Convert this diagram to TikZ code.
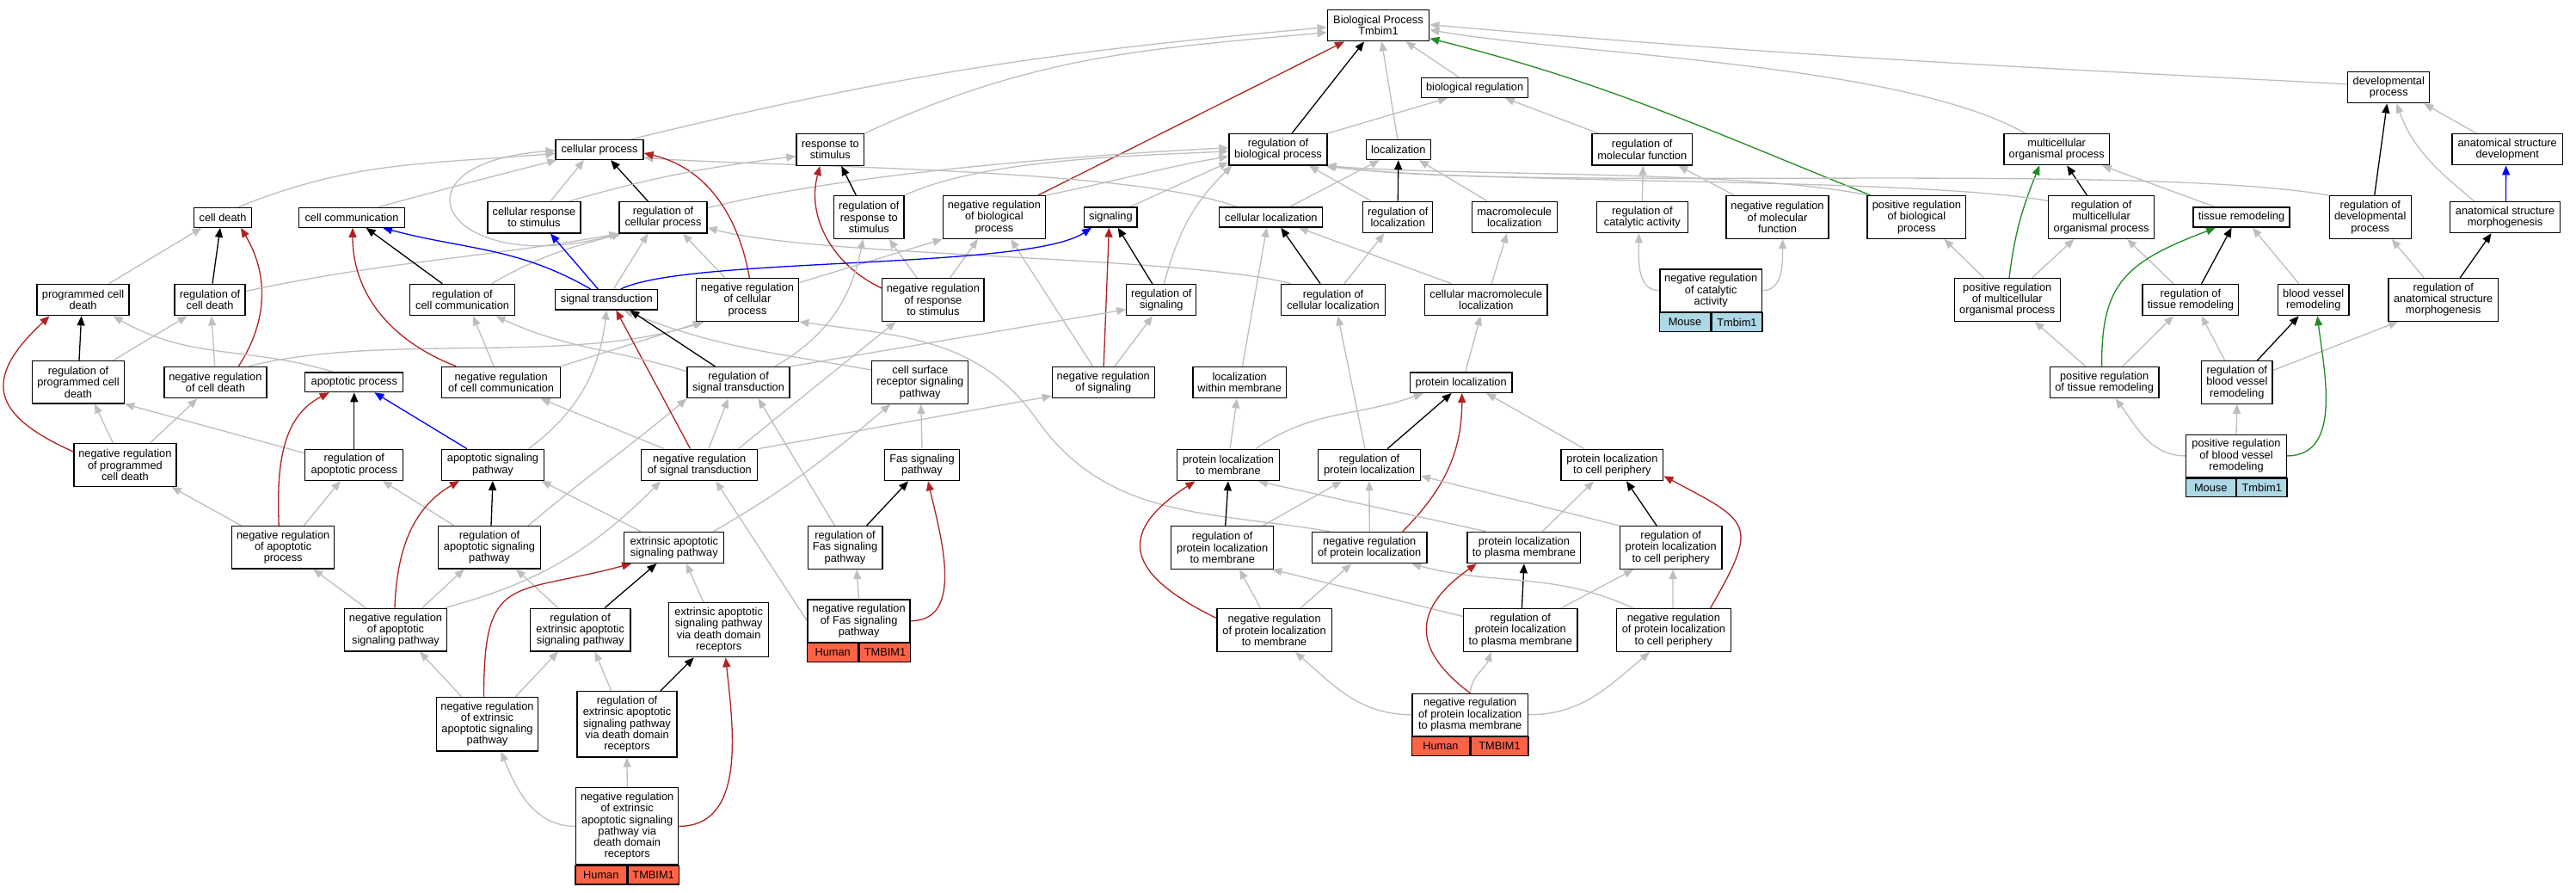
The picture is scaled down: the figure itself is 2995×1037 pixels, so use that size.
\documentclass[tikz,border=0pt]{standalone}
\usepackage{fontspec}
\setmainfont{Liberation Sans}
\usetikzlibrary{arrows.meta,backgrounds}
\definecolor{eg}{RGB}{190,190,190}
\definecolor{er}{RGB}{178,34,34}
\definecolor{egr}{RGB}{34,139,34}
\definecolor{ebl}{RGB}{0,0,255}
\definecolor{tomatoc}{RGB}{255,99,71}
\definecolor{lbluec}{RGB}{173,216,230}
\newcommand\gonode[6]{\node[gobox,minimum width=#4pt,minimum height=#5pt] (#1) at (#2,#3) {#6};}
\newcommand\gogenes[5]{%
\node[gocell,fill=#2,anchor=north east,minimum width=#5pt] (#1-a) at (#1.south) {#3};
\node[gocell,fill=#2,anchor=north west,minimum width=#5pt] (#1-b) at (#1.south) {#4};}
\begin{document}
\begin{tikzpicture}[x=1pt,y=-1pt,
 gobox/.style={draw=black,line width=1.3pt,fill=white,align=center,inner sep=0pt,font=\fontsize{12.8}{13.3}\selectfont},
 gocell/.style={draw=black,line width=1.3pt,inner sep=0pt,minimum height=21.7pt,font=\fontsize{12.8}{13.3}\selectfont},
 ebase/.style={line width=1.3pt,-{Triangle[length=11pt,width=9pt]}},
 eisa/.style={ebase,draw=eg},
 ereg/.style={ebase,draw=black},
 eneg/.style={ebase,draw=er},
 epos/.style={ebase,draw=egr},
 epart/.style={ebase,draw=ebl}]
\useasboundingbox (0,0) rectangle (2995,1037);
% nodes
\gonode{bp}{1602.5}{29.7}{118.4}{36}{Biological Process\\Tmbim1}
\gonode{bioreg}{1714.6}{101.8}{124}{23}{biological regulation}
\gonode{devp}{2777.3}{101.8}{95}{36}{developmental\\process}
\gonode{cellp}{697}{174}{102}{23}{cellular process}
\gonode{resp}{965.3}{174}{78.6}{36.6}{response to\\stimulus}
\gonode{regbp}{1486}{173.8}{114}{36.3}{regulation of\\biological process}
\gonode{loc}{1625.8}{174}{75}{23}{localization}
\gonode{regmf}{1909.2}{173.8}{116.3}{36.3}{regulation of\\molecular function}
\gonode{mop}{2391.2}{173.8}{122.3}{36}{multicellular\\organismal process}
\gonode{asd}{2915.2}{173.8}{128.3}{36}{anatomical structure\\development}
\gonode{cdeath}{259}{252.7}{67}{23}{cell death}
\gonode{ccomm}{409}{252.7}{123}{23}{cell communication}
\gonode{cresp}{621}{252.7}{108}{36.5}{cellular response\\to stimulus}
\gonode{regcp}{771}{252.7}{102}{36.5}{regulation of\\cellular process}
\gonode{regresp}{1010.3}{252.5}{81.5}{49.7}{regulation of\\response to\\stimulus}
\gonode{nregbp}{1155.9}{252.5}{119}{49.7}{negative regulation\\of biological\\process}
\gonode{sig}{1291.4}{252.5}{61.4}{23}{signaling}
\gonode{cloc}{1477.8}{252.5}{120}{23}{cellular localization}
\gonode{regloc}{1625.3}{252.5}{81}{36.4}{regulation of\\localization}
\gonode{mloc}{1760.7}{252.5}{99}{36.4}{macromolecule\\localization}
\gonode{regcat}{1909.4}{252.5}{105.6}{36.4}{regulation of\\catalytic activity}
\gonode{nregmf}{2066.5}{252.5}{119}{49.7}{negative regulation\\of molecular\\function}
\gonode{pregbp}{2228.4}{252.5}{114.8}{49.7}{positive regulation\\of biological\\process}
\gonode{regmop}{2443.1}{252.5}{122.9}{49.7}{regulation of\\multicellular\\organismal process}
\gonode{tissue}{2606}{252.6}{112}{23}{tissue remodeling}
\gonode{regdev}{2755.7}{252.5}{95}{49.7}{regulation of\\developmental\\process}
\gonode{asm}{2912.5}{252.6}{128.3}{36}{anatomical structure\\morphogenesis}
\gonode{pcd}{96.6}{348.5}{107}{36.4}{programmed cell\\death}
\gonode{regcd}{244}{348.5}{82}{36.4}{regulation of\\cell death}
\gonode{regcc}{537.6}{348.5}{122}{36.4}{regulation of\\cell communication}
\gonode{st}{705.3}{348.3}{119}{23.3}{signal transduction}
\gonode{nregcp}{869}{348.5}{119.4}{49.7}{negative regulation\\of cellular\\process}
\gonode{nregresp}{1084.9}{348.5}{118.2}{49.7}{negative regulation\\of response\\to stimulus}
\gonode{regsig}{1350.3}{348.7}{81}{36}{regulation of\\signaling}
\gonode{regcloc}{1550}{348.5}{120.4}{36.4}{regulation of\\cellular localization}
\gonode{cmloc}{1727.8}{348.5}{142.4}{36.4}{cellular macromolecule\\localization}
\gonode{nregcat}{1989.2}{337.7}{118.4}{49.3}{negative regulation\\of catalytic\\activity}
\gogenes{nregcat}{lbluec}{Mouse}{Tmbim1}{59.2}
\gonode{pregmop}{2333.7}{348.3}{122.9}{49.7}{positive regulation\\of multicellular\\organismal process}
\gonode{regtissue}{2546.9}{348.5}{111.6}{36.3}{regulation of\\tissue remodeling}
\gonode{bvr}{2689.7}{348.5}{82.5}{36.3}{blood vessel\\remodeling}
\gonode{regasm}{2840.7}{348.3}{127.7}{49.7}{regulation of\\anatomical structure\\morphogenesis}
\gonode{regpcd}{91}{444.3}{107}{49.3}{regulation of\\programmed cell\\death}
\gonode{nregcd}{250.4}{444.5}{119}{36.4}{negative regulation\\of cell death}
\gonode{apop}{411.8}{444.3}{114}{22.7}{apoptotic process}
\gonode{nregcc}{582.6}{444.5}{138}{36.4}{negative regulation\\of cell communication}
\gonode{regst}{858.6}{444.7}{119}{36}{regulation of\\signal transduction}
\gonode{csr}{1069.8}{444.5}{112}{49.6}{cell surface\\receptor signaling\\pathway}
\gonode{nregsig}{1282.8}{444.7}{119}{36}{negative regulation\\of signaling}
\gonode{locwm}{1441.2}{444.7}{108.5}{36}{localization\\within membrane}
\gonode{ploc}{1698.7}{444.7}{118.7}{23.3}{protein localization}
\gonode{pregtissue}{2446.6}{444.5}{126.6}{36.4}{positive regulation\\of tissue remodeling}
\gonode{regbvr}{2600.8}{444.5}{82.5}{49.4}{regulation of\\blood vessel\\remodeling}
\gonode{nregpcd}{145.4}{540.5}{119}{49.7}{negative regulation\\of programmed\\cell death}
\gonode{regapop}{411.8}{540.3}{114}{36}{regulation of\\apoptotic process}
\gonode{asp}{573}{540.3}{118.6}{36}{apoptotic signaling\\pathway}
\gonode{nregst}{813.3}{540.5}{135}{36.4}{negative regulation\\of signal transduction}
\gonode{fas}{1072}{540.5}{86.7}{36.4}{Fas signaling\\pathway}
\gonode{plocm}{1428}{540.5}{119}{36.4}{protein localization\\to membrane}
\gonode{regploc}{1592}{540.5}{118.7}{36.3}{regulation of\\protein localization}
\gonode{plocp}{1874.4}{540.5}{118.7}{36.3}{protein localization\\to cell periphery}
\gonode{pregbvr}{2600}{529.9}{116.4}{49.3}{positive regulation\\of blood vessel\\remodeling}
\gogenes{pregbvr}{lbluec}{Mouse}{Tmbim1}{58.2}
\gonode{nregapop}{329.2}{636.3}{119}{49.3}{negative regulation\\of apoptotic\\process}
\gonode{regasp}{569}{636.3}{119}{49.3}{regulation of\\apoptotic signaling\\pathway}
\gonode{easp}{783.8}{636.4}{116}{36}{extrinsic apoptotic\\signaling pathway}
\gonode{regfas}{982.5}{636.5}{86.7}{49.7}{regulation of\\Fas signaling\\pathway}
\gonode{regplocm}{1421.2}{636.5}{119}{49.7}{regulation of\\protein localization\\to membrane}
\gonode{nregploc}{1592.2}{636.5}{133.4}{36.3}{negative regulation\\of protein localization}
\gonode{plocpm}{1771.9}{636.5}{131.7}{36.3}{protein localization\\to plasma membrane}
\gonode{regplocp}{1942.7}{636.5}{118.7}{49.7}{regulation of\\protein localization\\to cell periphery}
\gonode{nregasp}{460}{732}{119}{49.7}{negative regulation\\of apoptotic\\signaling pathway}
\gonode{regeasp}{674.7}{732}{116.5}{49.7}{regulation of\\extrinsic apoptotic\\signaling pathway}
\gonode{eddr}{835.7}{732.2}{116}{63}{extrinsic apoptotic\\signaling pathway\\via death domain\\receptors}
\gonode{nregfas}{998.6}{721.7}{119}{49.3}{negative regulation\\of Fas signaling\\pathway}
\gogenes{nregfas}{tomatoc}{Human}{TMBIM1}{59.5}
\gonode{nregplocm}{1481.6}{732.5}{133.4}{49.7}{negative regulation\\of protein localization\\to membrane}
\gonode{regplocpm}{1767.8}{732.5}{132.3}{49.7}{regulation of\\protein localization\\to plasma membrane}
\gonode{nregplocp}{1945.9}{732.5}{132.8}{49.7}{negative regulation\\of protein localization\\to cell periphery}
\gonode{nregeasp}{566.5}{841.7}{118}{62.7}{negative regulation\\of extrinsic\\apoptotic signaling\\pathway}
\gonode{regeddr}{729}{841.8}{116}{76.3}{regulation of\\extrinsic apoptotic\\signaling pathway\\via death domain\\receptors}
\gonode{nregplocpm}{1709.2}{830.8}{134.5}{49}{negative regulation\\of protein localization\\to plasma membrane}
\gogenes{nregplocpm}{tomatoc}{Human}{TMBIM1}{67.25}
\gonode{nregeddr}{729.2}{960.4}{119}{89.3}{negative regulation\\of extrinsic\\apoptotic signaling\\pathway via\\death domain\\receptors}
\gogenes{nregeddr}{tomatoc}{Human}{TMBIM1}{59.5}
% edges
\begin{pgfonlayer}{background}
\fill[white] (0,0) rectangle (2995,1037);
% to root
\draw[eisa] ([xshift=37pt]cellp.north) .. controls (1044,86) and (1224,60) .. ([yshift=-2pt]bp.west);
\draw[eisa] (resp.north east) .. controls (1200,65) and (1329,57) .. ([yshift=-8pt]bp.west);
\draw[ereg] ([xshift=16pt]regbp.north) -- ([xshift=-16.5pt]bp.south);
\draw[eneg] ([xshift=51pt]nregbp.north) -- ([xshift=-39.5pt]bp.south);
\draw[eisa] ([xshift=-1pt]loc.north) -- ([xshift=4pt]bp.south);
\draw[eisa] ([xshift=-18.6pt]bioreg.north) -- ([xshift=32pt]bp.south);
\draw[epos] ([xshift=4.5pt]pregbp.north west) .. controls (1978,148) and (1868,96) .. ([yshift=-15pt]bp.east);
\draw[eisa] ([xshift=-36.4pt]mop.north) .. controls (2212,73) and (1824,63) .. ([yshift=-5pt]bp.east);
\draw[eisa] ([yshift=4pt]devp.west) .. controls (2312,76) and (2079,65) .. ([yshift=1pt]bp.east);
\draw[eisa] (regbp.north east) -- ([xshift=-31.6pt]bioreg.south);
\draw[eisa] ([xshift=8pt]regmf.north west) -- ([xshift=35pt]bioreg.south);
% right part
\draw[ereg] ([xshift=5pt]regdev.north) -- ([xshift=-2pt]devp.south);
\draw[eisa] ([xshift=29pt]asd.north west) -- ([xshift=41pt]devp.south);
\draw[eisa] ([xshift=29pt]asm.north west) to[out=140,in=-70] ([xshift=9pt]devp.south);
\draw[epart] ([xshift=1pt]asm.north) -- ([xshift=-1.6pt]asd.south);
\draw[epos] ([xshift=2.3pt]pregmop.north) to[out=83,in=248] ([xshift=-20pt]mop.south);
\draw[ereg] ([xshift=-16.6pt]regmop.north) -- ([xshift=12pt]mop.south);
\draw[eisa] ([xshift=26pt]tissue.north west) -- ([xshift=-9pt]mop.south east);
\draw[eisa] ([xshift=-27.4pt]pregmop.north) -- ([xshift=32pt]pregbp.south);
\draw[eisa] ([xshift=29pt]pregmop.north) -- ([xshift=-31.7pt]regmop.south);
\draw[ereg] ([xshift=12.7pt]regtissue.north) -- ([xshift=-11.4pt]tissue.south);
\draw[eisa] ([xshift=-20pt]regtissue.north) -- ([xshift=30pt]regmop.south);
\draw[eisa] ([xshift=-17pt]bvr.north) -- ([xshift=13pt]tissue.south);
\draw[epos] ([xshift=-3pt]pregtissue.north) .. controls (2443,330) and (2470,305) .. ([xshift=-30pt]tissue.south);
\draw[eisa] ([xshift=-22pt]pregtissue.north) -- ([xshift=32pt]pregmop.south);
\draw[eisa] ([xshift=21.5pt]pregtissue.north) -- ([xshift=-20pt]regtissue.south);
\draw[ereg] ([xshift=23.4pt]regbvr.north) -- ([xshift=-17pt]bvr.south);
\draw[eisa] ([xshift=-14pt]regbvr.north) -- ([xshift=12.7pt]regtissue.south);
\draw[eisa] ([yshift=14pt]regbvr.east) -- ([xshift=12pt]regasm.south west);
\draw[eisa] (pregbvr.north) -- (regbvr.south);
\draw[eisa] (pregbvr.west) to[out=180,in=-53] ([xshift=13pt]pregtissue.south);
\draw[epos] (pregbvr.east) to[out=0,in=-83] ([xshift=4.6pt]bvr.south);
\draw[ereg] ([xshift=19.6pt]regasm.north) -- ([xshift=-16pt]asm.south);
\draw[eisa] ([xshift=-22.4pt]regasm.north) -- ([xshift=25pt]regdev.south);
% regulation of biological process
\draw[eisa] ([yshift=11pt]regcp.east) .. controls (984,201) and (1262,180) .. ([yshift=2pt]regbp.west);
\draw[eisa] (regresp.north east) .. controls (1145,184) and (1325,181) .. ([yshift=-2pt]regbp.west);
\draw[eisa] (nregbp.north east) .. controls (1300,210) and (1350,195) .. ([yshift=-8pt]regbp.west);
\draw[eisa] ([xshift=-9pt]sig.north east) -- ([yshift=4pt]regbp.south west);
\draw[eisa] ([xshift=3pt]regsig.north) to[out=75,in=224] ([xshift=4pt]regbp.south west);
\draw[eisa] ([xshift=10pt]regloc.north west) -- ([xshift=36pt]regbp.south);
\draw[eisa] ([xshift=2pt]pregbp.north west) .. controls (2028,197) and (1689,205) .. ([xshift=-1pt]regbp.south east);
\draw[eisa] ([yshift=19pt]regmop.west) .. controls (2220,205) and (1703,215) .. ([xshift=-2pt]regbp.south east);
\draw[eisa] (regdev.north west) .. controls (2483,188) and (1766,224) .. ([xshift=-3pt]regbp.south east);
% localization
\draw[ereg] (regloc.north) -- (loc.south);
\draw[eisa] ([xshift=21.7pt]cloc.north) -- ([xshift=-22pt]loc.south);
\draw[eisa] ([xshift=-31.7pt]mloc.north) -- ([xshift=24pt]loc.south);
\draw[eisa] (regcat.north) -- ([xshift=1pt]regmf.south);
\draw[eisa] ([xshift=10pt]nregmf.north west) -- ([xshift=42pt]regmf.south);
\draw[eisa] (nregcat.west) to[out=180,in=-90] ([xshift=-4pt]regcat.south);
\draw[eisa] (nregcat.east) to[out=0,in=-90] ([xshift=6pt]nregmf.south);
\draw[eisa] ([xshift=21pt]cloc.north west) .. controls (1312,194) and (882,194) .. ([yshift=3pt]cellp.south east);
\draw[ereg] ([xshift=-15pt]regcloc.north) -- ([xshift=11.5pt]cloc.south);
\draw[eisa] ([xshift=13pt]regcloc.north) -- ([xshift=-16pt]regloc.south);
\draw[eisa] ([xshift=12pt]regcloc.north west) .. controls (1373,297) and (951,299) .. ([yshift=-12pt]regcp.east);
\draw[eisa] ([xshift=31.6pt]cmloc.north west) -- ([xshift=32pt]cloc.south);
\draw[eisa] ([xshift=6.4pt]cmloc.north) -- ([xshift=-8.7pt]mloc.south);
\draw[eisa] ([xshift=3.2pt]locwm.north) -- ([xshift=-5pt]cloc.south);
\draw[eisa] ([xshift=5pt]ploc.north) -- ([xshift=-6.4pt]cmloc.south);
\draw[eisa] ([xshift=32pt]plocm.north) to[out=35,in=200] ([xshift=16pt]ploc.south west);
\draw[eisa] ([xshift=2pt]plocm.north) -- ([xshift=-3pt]locwm.south);
\draw[ereg] ([xshift=21pt]regploc.north) -- ([xshift=-11pt]ploc.south);
\draw[eisa] ([xshift=-5pt]regploc.north) -- ([xshift=5.6pt]regcloc.south);
\draw[eisa] ([xshift=-32.4pt]plocp.north) -- ([xshift=29.6pt]ploc.south);
\draw[eneg] ([xshift=38.5pt]nregploc.north) to[out=45,in=-90] ([xshift=1pt]ploc.south);
\draw[eisa] (nregploc.north) -- (regploc.south);
\draw[eisa] ([xshift=21pt]nregploc.north west) .. controls (1406,594) and (1287,604) .. (1205,487) .. controls (1138,392) and (1044,390) .. (nregcp.south east);
\draw[eisa] ([xshift=22pt]plocpm.north west) -- ([xshift=34.6pt]plocm.south);
\draw[eisa] ([xshift=21.4pt]plocpm.north) -- ([xshift=-21.4pt]plocp.south);
\draw[ereg] ([xshift=-16.6pt]regplocp.north) -- ([xshift=16.5pt]plocp.south);
\draw[eisa] (regplocp.north west) -- ([yshift=-12.8pt]regploc.east);
\draw[ereg] ([xshift=3.5pt]regplocm.north) -- (plocm.south);
\draw[eisa] ([xshift=47pt]regplocm.north) -- ([xshift=-32pt]regploc.south);
\draw[eneg] ([yshift=14pt]nregplocm.west) to[out=154,in=213,looseness=1.8] ([xshift=-38.6pt]plocm.south);
\draw[eisa] ([xshift=-16pt]nregplocm.north) -- ([xshift=20pt]regplocm.south);
\draw[eisa] ([xshift=30pt]nregplocm.north) -- ([xshift=-21pt]nregploc.south);
\draw[ereg] ([xshift=1.6pt]regplocpm.north) -- (plocpm.south);
\draw[eisa] ([yshift=16pt]regplocpm.west) -- ([xshift=-2pt]regplocm.south east);
\draw[eisa] ([xshift=47pt]regplocpm.north) -- ([xshift=-43.7pt]regplocp.south);
\draw[eisa] ([xshift=-1pt]nregplocp.north) -- ([xshift=2.4pt]regplocp.south);
\draw[eneg] ([xshift=42.6pt]nregplocp.north) to[out=60,in=-28,looseness=1.8] ([yshift=-12.8pt]plocp.east);
\draw[eisa] ([xshift=20pt]nregplocp.north west) to[out=155,in=-15] ([xshift=49pt]nregploc.south);
\draw[eisa] (nregplocpm.west) to[out=180,in=-41] ([xshift=24.4pt]nregplocm.south);
\draw[eisa] (nregplocpm.north) to[out=85,in=-110] ([xshift=-34pt]regplocpm.south);
\draw[eneg] (nregplocpm.north) to[out=143,in=215,looseness=1.5] ([xshift=11.4pt]plocpm.south west);
\draw[eisa] (nregplocpm.east) to[out=0,in=220] ([xshift=-28pt]nregplocp.south);
% cellular process area
\draw[eisa] ([xshift=18.4pt]cdeath.north) to[out=22,in=185] ([yshift=-4.3pt]cellp.west);
\draw[eisa] ([xshift=31pt]ccomm.north) to[out=15,in=194] ([xshift=2pt]cellp.south west);
\draw[eisa] ([xshift=19pt]cresp.north) -- ([xshift=-18pt]cellp.south);
\draw[ereg] ([xshift=-17.7pt]regcp.north) -- ([xshift=13pt]cellp.south);
\draw[eneg] ([xshift=2.4pt]nregcp.north) to[out=100,in=-13] ([yshift=-4pt]cellp.east);
\draw[eisa] (regcp.south west) .. controls (520,330) and (440,190) .. ([yshift=-1pt]cellp.west);
\draw[eisa] ([xshift=41pt]cresp.north) to[out=16,in=187] ([yshift=-7.7pt]resp.west);
\draw[ereg] ([xshift=-15pt]regresp.north) -- ([xshift=13pt]resp.south);
\draw[eneg] ([yshift=13.5pt]nregresp.west) to[out=155,in=255] ([xshift=-12pt]resp.south);
\draw[eisa] ([xshift=-18.7pt]nregresp.north) -- ([xshift=23.4pt]regresp.south);
\draw[eisa] ([xshift=19.6pt]nregresp.north) -- ([xshift=-19pt]nregbp.south);
\draw[eisa] ([xshift=-26pt]nregcp.north) -- ([xshift=23pt]regcp.south);
\draw[eisa] ([yshift=20pt]nregcp.east) -- (nregbp.south west);
\draw[ereg] ([xshift=-10.4pt]regsig.north) -- ([xshift=8.3pt]sig.south);
\draw[eneg] ([xshift=0.4pt]nregsig.north) -- ([xshift=-2pt]sig.south);
\draw[eisa] ([xshift=13pt]nregsig.north) -- ([xshift=-10.4pt]regsig.south);
\draw[eisa] ([xshift=-12pt]nregsig.north) -- ([xshift=19.4pt]nregbp.south);
% cell death / apoptosis
\draw[eisa] ([xshift=30pt]pcd.north) -- ([xshift=-24.6pt]cdeath.south);
\draw[ereg] ([xshift=3pt]regcd.north) -- ([xshift=-3pt]cdeath.south);
\draw[eneg] ([xshift=27pt]nregcd.north) to[out=57,in=-59] ([xshift=21pt]cdeath.south);
\draw[ereg] ([xshift=1pt]regpcd.north) -- ([xshift=-2pt]pcd.south);
\draw[eisa] ([xshift=40.5pt]regpcd.north) -- ([xshift=-26.4pt]regcd.south);
\draw[eneg] ([yshift=15.5pt]nregpcd.west) to[out=156,in=223,looseness=1.7] ([xshift=-39pt]pcd.south);
\draw[eisa] ([xshift=-14pt]nregpcd.north) -- ([xshift=19pt]regpcd.south);
\draw[eisa] ([xshift=29pt]nregpcd.north) -- ([xshift=-21pt]nregcd.south);
\draw[eisa] ([xshift=-0.7pt]nregcd.north) -- ([xshift=2pt]regcd.south);
\draw[eisa] ([xshift=39pt]nregcd.north) .. controls (450,386) and (661,425) .. ([xshift=10pt]nregcp.south west);
\draw[eisa] ([yshift=10pt]regcd.east) to[out=12,in=190] (regcp.south west);
\draw[eisa] ([xshift=-24.4pt]apop.north) to[out=163,in=-30] ([xshift=35pt]pcd.south);
\draw[ereg] (regapop.north) -- (apop.south);
\draw[eisa] ([yshift=13.6pt]regapop.west) -- (regpcd.south east);
\draw[epart] ([xshift=-30pt]asp.north) -- ([xshift=23.5pt]apop.south);
\draw[eneg] ([xshift=-5pt]nregapop.north) to[out=92,in=207] ([xshift=-29pt]apop.south);
\draw[eisa] ([xshift=11.5pt]nregapop.north west) -- ([xshift=-6pt]nregpcd.south east);
\draw[eisa] ([xshift=24pt]nregapop.north) -- ([xshift=-16pt]regapop.south);
\draw[ereg] ([xshift=2pt]regasp.north) -- (asp.south);
\draw[eisa] ([xshift=-41pt]regasp.north) -- ([xshift=33pt]regapop.south);
\draw[eisa] ([xshift=45pt]regasp.north) to[out=40,in=220] (regst.south west);
\draw[eisa] ([xshift=20pt]easp.north west) -- ([xshift=-3.5pt]asp.south east);
\draw[eisa] ([xshift=45.6pt]easp.north) to[out=30,in=220] ([xshift=22pt]csr.south west);
\draw[eisa] ([xshift=-35pt]nregasp.north) -- ([xshift=35pt]nregapop.south);
\draw[eisa] ([xshift=31pt]nregasp.north) -- ([xshift=-29.5pt]regasp.south);
\draw[eneg] ([xshift=-1pt]nregasp.north) to[out=88,in=210] ([xshift=-39pt]asp.south);
\draw[eisa] ([xshift=-3pt]nregasp.north east) to[out=15,in=225] ([xshift=23pt]nregst.south west);
\draw[ereg] ([xshift=28.4pt]regeasp.north) -- ([xshift=-20.4pt]easp.south);
\draw[eisa] ([xshift=-26pt]regeasp.north) -- ([xshift=31pt]regasp.south);
\draw[eisa] ([xshift=-17.7pt]eddr.north) -- ([xshift=14pt]easp.south);
\draw[eisa] ([xshift=-30pt]nregeasp.north) -- ([xshift=28pt]nregasp.south);
\draw[eisa] ([xshift=33pt]nregeasp.north) -- ([xshift=-26pt]regeasp.south);
\draw[eneg] ([xshift=-4pt]nregeasp.north) to[out=90,in=195,looseness=1.6] ([xshift=9pt]easp.south west);
\draw[ereg] ([xshift=39pt]regeddr.north) -- ([xshift=-29pt]eddr.south);
\draw[eisa] ([xshift=-18.4pt]regeddr.north) -- ([xshift=17pt]regeasp.south);
\draw[eisa] (nregeddr.west) to[out=180,in=-68] ([xshift=16pt]nregeasp.south);
\draw[eisa] (nregeddr.north) -- (regeddr.south);
\draw[eneg] (nregeddr.east) to[out=0,in=-84] ([xshift=8pt]eddr.south);
% signal transduction area
\draw[ereg] ([xshift=-23.4pt]regcc.north) -- ([xshift=16.7pt]ccomm.south);
\draw[eisa] ([xshift=34pt]regcc.north) to[out=30,in=195] ([xshift=3pt]regcp.south west);
\draw[eneg] ([xshift=17.3pt]nregcc.north west) to[out=159,in=-90] ([xshift=1pt]ccomm.south);
\draw[eisa] ([xshift=-8.6pt]nregcc.north) -- ([xshift=12.4pt]regcc.south);
\draw[eisa] (nregcc.north east) -- ([xshift=8pt]nregcp.south west);
\draw[epart] ([xshift=-18.6pt]st.north) to[out=150,in=-15] ([xshift=36pt]ccomm.south);
\draw[epart] ([xshift=-10pt]st.north) -- ([xshift=19pt]cresp.south);
\draw[eisa] ([xshift=8pt]st.north) -- ([xshift=-17.7pt]regcp.south);
\draw[epart] ([xshift=16.4pt]st.north) .. controls (799,298) and (1196,314) .. ([xshift=-22.4pt]sig.south);
\draw[eisa] ([xshift=41.6pt]asp.north) to[out=37,in=-97] (st.south);
\draw[eneg] ([xshift=-10.7pt]nregst.north) -- ([xshift=11pt]st.south);
\draw[eisa] ([yshift=14.5pt]csr.west) to[out=170,in=-22] ([xshift=20pt]st.south);
\draw[ereg] ([xshift=-27pt]regst.north) -- ([xshift=27pt]st.south);
\draw[eisa] ([yshift=13pt]regst.west) to[out=163,in=-25] ([xshift=39pt]regcc.south);
\draw[eisa] ([xshift=-18pt]regst.north east) to[out=30,in=259] ([xshift=-7pt]regresp.south);
\draw[eisa] (regst.north east) -- ([yshift=-11pt]regsig.west);
\draw[eisa] ([xshift=-41pt]nregst.north) -- ([xshift=46pt]nregcc.south);
\draw[eisa] ([xshift=10.6pt]nregst.north) -- ([xshift=-12pt]regst.south);
\draw[eisa] ([xshift=45pt]nregst.north) -- ([xshift=-43.5pt]nregresp.south);
\draw[eisa] (nregst.north east) -- ([yshift=3pt]nregsig.south west);
\draw[eisa] (fas.north) -- ([xshift=1pt]csr.south);
\draw[ereg] ([xshift=25pt]regfas.north) -- ([xshift=-16pt]fas.south);
\draw[eisa] ([xshift=-12pt]regfas.north) -- ([xshift=23pt]regst.south);
\draw[eisa] (nregfas.north) -- ([xshift=13.5pt]regfas.south);
\draw[eneg] (nregfas.east) to[out=0,in=-77] ([xshift=7pt]fas.south);
\draw[eisa] (nregfas.west) -- ([xshift=19pt]nregst.south);
\end{pgfonlayer}
\end{tikzpicture}
\end{document}
